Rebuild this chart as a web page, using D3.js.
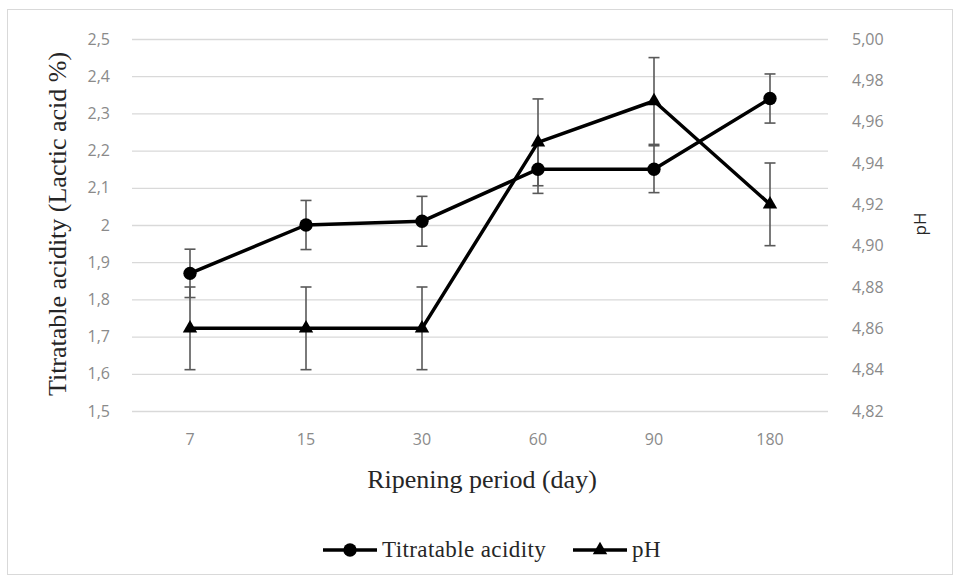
<!DOCTYPE html>
<html>
<head>
<meta charset="utf-8">
<script src="https://cdn.jsdelivr.net/npm/d3@7"></script>
<style>
    body { margin: 0; background: #fff; }
    svg { display: block; }
</style>
</head>
<body>
<svg id="chart" width="958" height="581"></svg>
<script>
// values
const days = ["7", "15", "30", "60", "90", "180"];
const acidity = [1.87, 2.00, 2.01, 2.15, 2.15, 2.34];
const acidityErr = [0.065, 0.066, 0.067, 0.065, 0.063, 0.066];
const ph = [4.86, 4.86, 4.86, 4.95, 4.97, 4.92];
const phErr = [0.02, 0.02, 0.02, 0.021, 0.021, 0.02];
const leftTicks = [1.5, 1.6, 1.7, 1.8, 1.9, 2.0, 2.1, 2.2, 2.3, 2.4, 2.5];
const rightTicks = [4.82, 4.84, 4.86, 4.88, 4.90, 4.92, 4.94, 4.96, 4.98, 5.00];

const svg = d3.select("#chart");
const plot = { left: 132, right: 828, top: 39, bottom: 411 };
const serif = "'Liberation Serif', 'Times New Roman', serif";
const sans = "'Open Sans', 'Noto Sans', sans-serif";
const gray = "#8a8a8a";

// outer chart frame
svg.append("rect")
    .attr("x", 7.5).attr("y", 9.5)
    .attr("width", 945).attr("height", 565)
    .attr("fill", "#fff")
    .attr("stroke", "#d9d9d9");

let x = d3.scaleBand().domain(days).range([plot.left, plot.right]);
let yL = d3.scaleLinear().domain([1.5, 2.5]).range([plot.bottom, plot.top]);
let yR = d3.scaleLinear().domain([4.82, 5.00]).range([plot.bottom, plot.top]);

let fmtL = d => d === 2 ? "2" : d3.format(".1f")(d).replace(".", ",");
let fmtR = d => d3.format(".2f")(d).replace(".", ",");

// gridlines + left axis labels
let leftAxis = svg.append("g")
    .attr("transform", `translate(${plot.left},0)`)
    .call(d3.axisLeft(yL).tickValues(leftTicks).tickFormat(fmtL)
        .tickSize(-(plot.right - plot.left)).tickPadding(22));
leftAxis.select(".domain").remove();
leftAxis.selectAll("line").attr("stroke", "#d9d9d9").attr("stroke-width", 1.3);
leftAxis.selectAll("text")
    .attr("fill", gray).attr("font-family", sans).attr("font-size", 16);

let rightAxis = svg.append("g")
    .attr("transform", `translate(${plot.right},0)`)
    .call(d3.axisRight(yR).tickValues(rightTicks).tickFormat(fmtR)
        .tickSize(0).tickPadding(24));
rightAxis.select(".domain").remove();
rightAxis.selectAll("text")
    .attr("fill", gray).attr("font-family", sans).attr("font-size", 16);

let bottomAxis = svg.append("g")
    .attr("transform", `translate(0,${plot.bottom})`)
    .call(d3.axisBottom(x).tickSize(0).tickPadding(23));
bottomAxis.select(".domain").remove();
bottomAxis.selectAll("text")
    .attr("fill", gray).attr("font-family", sans).attr("font-size", 16);

// axis titles
svg.append("text")
    .attr("transform", "translate(66,224) rotate(-90)")
    .attr("text-anchor", "middle")
    .attr("font-family", serif).attr("font-size", 26)
    .attr("fill", "#262626")
    .text("Titratable acidity (Lactic acid %)");

svg.append("text")
    .attr("transform", "translate(926,224) rotate(-90)")
    .attr("text-anchor", "middle")
    .attr("font-family", sans).attr("font-size", 17)
    .attr("fill", "#262626")
    .text("pH");

svg.append("text")
    .attr("x", 482).attr("y", 488)
    .attr("text-anchor", "middle")
    .attr("font-family", serif).attr("font-size", 26)
    .attr("fill", "#262626")
    .text("Ripening period (day)");

let cx = d => x(d) + x.bandwidth() / 2;

// error bars
function errorBars(vals, errs, scale) {
    let g = svg.append("g").attr("stroke", "#595959").attr("stroke-width", 1.6);
    vals.forEach((v, i) => {
        let px = cx(days[i]);
        let top = scale(v + errs[i]), bot = scale(v - errs[i]);
        g.append("line").attr("x1", px).attr("x2", px).attr("y1", top).attr("y2", bot);
        g.append("line").attr("x1", px - 5.5).attr("x2", px + 5.5).attr("y1", top).attr("y2", top);
        g.append("line").attr("x1", px - 5.5).attr("x2", px + 5.5).attr("y1", bot).attr("y2", bot);
    });
}
errorBars(acidity, acidityErr, yL);
errorBars(ph, phErr, yR);

// series lines
let lineL = d3.line().x((d, i) => cx(days[i])).y(d => yL(d));
let lineR = d3.line().x((d, i) => cx(days[i])).y(d => yR(d));

svg.append("path").datum(ph).attr("d", lineR)
    .attr("fill", "none").attr("stroke", "#000").attr("stroke-width", 3.5)
    .attr("stroke-linejoin", "round");
svg.append("path").datum(acidity).attr("d", lineL)
    .attr("fill", "none").attr("stroke", "#000").attr("stroke-width", 3.5)
    .attr("stroke-linejoin", "round");

let circleSym = d3.symbol().type(d3.symbolCircle).size(140);
let triSym = d3.symbol().type(d3.symbolTriangle).size(90);

svg.selectAll(".mk-ac").data(acidity).enter().append("path")
    .attr("class", "mk-ac")
    .attr("d", circleSym)
    .attr("transform", (d, i) => `translate(${cx(days[i])},${yL(d)})`)
    .attr("fill", "#000");

svg.selectAll(".mk-ph").data(ph).enter().append("path")
    .attr("class", "mk-ph")
    .attr("d", triSym)
    .attr("transform", (d, i) => `translate(${cx(days[i])},${yR(d)})`)
    .attr("fill", "#000");

// legend
const legendItems = [
    { label: "Titratable acidity", sym: circleSym, x: 323 },
    { label: "pH", sym: triSym, x: 573 }
];
let lg = svg.append("g").attr("transform", "translate(0,550)");
legendItems.forEach(it => {
    lg.append("line").attr("x1", it.x).attr("x2", it.x + 54)
        .attr("stroke", "#000").attr("stroke-width", 3.5);
    lg.append("path").attr("d", it.sym)
        .attr("transform", `translate(${it.x + 27},0)`).attr("fill", "#000");
    lg.append("text")
        .attr("x", it.x + 59).attr("y", 7)
        .attr("font-family", serif).attr("font-size", 23)
        .attr("letter-spacing", 0.4)
        .attr("fill", "#262626")
        .text(it.label);
});
</script>
</body>
</html>
